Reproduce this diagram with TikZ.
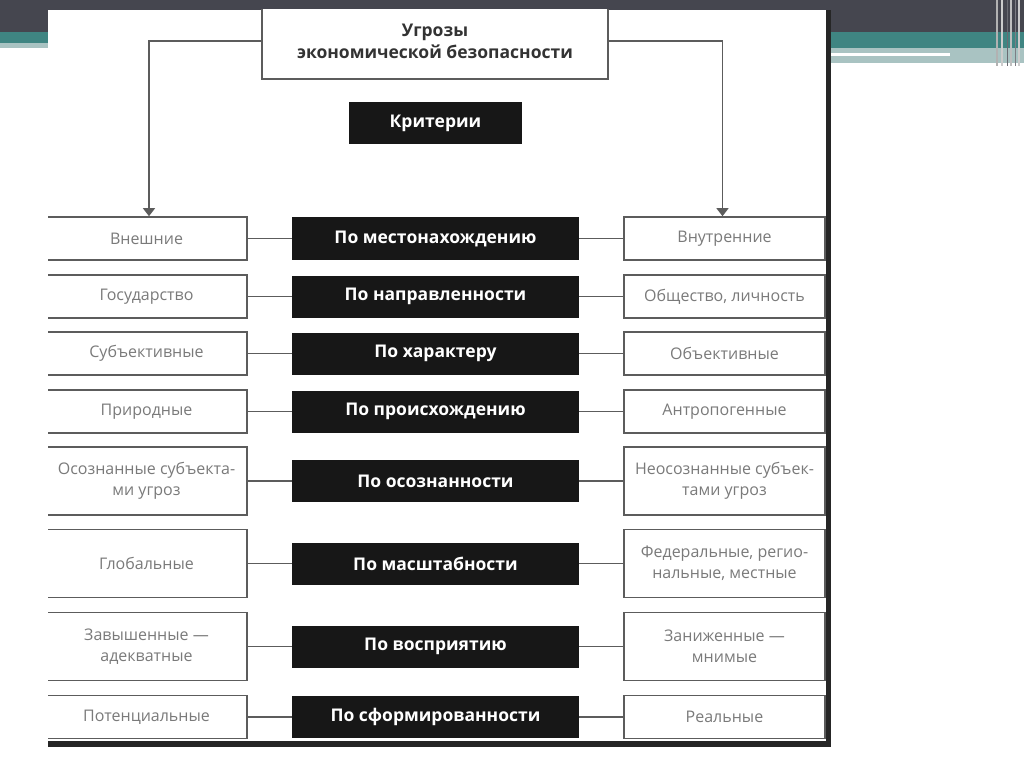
\documentclass[tikz,border=0pt]{standalone}
\usepackage{fontspec}
\setmainfont{Open Sans}
\usetikzlibrary{positioning, arrows.meta}

\definecolor{slidedark}{HTML}{45464F}
\definecolor{slideteal}{HTML}{3F8582}
\definecolor{slidelight}{HTML}{A9C3C2}
\definecolor{boxline}{HTML}{5C5C5C}
\definecolor{boxtext}{HTML}{7A7A7A}
\definecolor{critfill}{HTML}{171717}

\tikzset{
  kind/.style={draw=boxline, line width=1.6pt, fill=white, text=boxtext,
    align=center, inner sep=0pt, minimum width=201pt, minimum height=43pt,
    font=\fontsize{16}{21}\selectfont},
  tall/.style={minimum height=68pt},
  crit/.style={fill=critfill, text=white, inner sep=0pt,
    minimum width=287pt, minimum height=42pt,
    font=\fontsize{17.5}{20}\selectfont\bfseries},
  link/.style={draw=boxline, line width=1.3pt}
}

\begin{document}
\begin{tikzpicture}[x=1pt, y=-1pt]
  \useasboundingbox (0,0) rectangle (1024,767);
  % slide background
  \fill[white] (0,0) rectangle (1024,767);
  \fill[slidedark] (0,0) rectangle (1024,32);
  \fill[slideteal] (0,32) rectangle (48,43);
  \fill[slidelight] (0,43) rectangle (48,48);
  \fill[slideteal] (826,32) rectangle (1024,48);
  \fill[slidelight] (826,48) rectangle (1024,63);
  \fill[white] (831,53) rectangle (950,56);
  \draw[gray!60, line width=1.5pt] (997,0) -- (997,66);
  \draw[gray!40, line width=2pt] (1002,0) -- (1002,66);
  \draw[slidedark!80, line width=1pt] (1007,0) -- (1007,66);
  \draw[gray!50, line width=2pt] (1011,0) -- (1011,66);
  \draw[slidedark!70, line width=1pt] (1015,0) -- (1015,66);
  \draw[gray!40, line width=2pt] (1019,0) -- (1019,66);

  % sheet with shadow
  \fill[white] (48,10) rectangle (826,741);
  \fill[black!85] (826,10) rectangle (831,747);
  \fill[black!85] (48,741) rectangle (831,747);

  \begin{scope}
    \clip (48,10) rectangle (826,741);

    \node[kind, minimum width=346pt, minimum height=76pt, text=black!80,
      font=\fontsize{17.5}{22}\selectfont\bfseries] (threat) at (435,41)
      {Угрозы\\экономической безопасности};
    \node[crit, minimum width=173pt] (criteria) at (435.5,123) {Критерии};

    % criteria
    \node[crit] (place)  at (435.5,238.5) {По местонахождению};
    \node[crit] (aim)    at (435.5,296.5) {По направленности};
    \node[crit] (nature) at (435.5,353.5) {По характеру};
    \node[crit] (origin) at (435.5,411.5) {По происхождению};
    \node[crit] (aware)  at (435.5,481)   {По осознанности};
    \node[crit] (scale)  at (435.5,563.5) {По масштабности};
    \node[crit] (percep) at (435.5,646.5) {По восприятию};
    \node[crit] (form)   at (435.5,717)   {По сформированности};

    % left column
    \node[kind, left=44pt of place]        (place-l)  {Внешние};
    \node[kind, left=44pt of aim]          (aim-l)    {Государство};
    \node[kind, left=44pt of nature]       (nature-l) {Субъективные};
    \node[kind, left=44pt of origin]       (origin-l) {Природные};
    \node[kind, tall, left=44pt of aware]  (aware-l)  {Осознанные субъекта-\\ми угроз};
    \node[kind, tall, left=44pt of scale]  (scale-l)  {Глобальные};
    \node[kind, tall, left=44pt of percep] (percep-l) {Завышенные —\\адекватные};
    \node[kind, left=44pt of form]         (form-l)   {Потенциальные};

    % right column
    \node[kind, right=44pt of place]        (place-r)  {Внутренние};
    \node[kind, right=44pt of aim]          (aim-r)    {Общество, личность};
    \node[kind, right=44pt of nature]       (nature-r) {Объективные};
    \node[kind, right=44pt of origin]       (origin-r) {Антропогенные};
    \node[kind, tall, right=44pt of aware]  (aware-r)  {Неосознанные субъек-\\тами угроз};
    \node[kind, tall, right=44pt of scale]  (scale-r)  {Федеральные, регио-\\нальные, местные};
    \node[kind, tall, right=44pt of percep] (percep-r) {Заниженные —\\мнимые};
    \node[kind, right=44pt of form]         (form-r)   {Реальные};

    \draw[link, -{Triangle[width=12pt, length=8pt]}]
      (threat) -| ([xshift=2.5pt]place-l.north);
    \draw[link, -{Triangle[width=12pt, length=8pt]}]
      (threat) -| ([xshift=-2pt]place-r.north);

    \path[link]
      (place-l) edge (place)   (place) edge (place-r)
        (aim-l) edge (aim)       (aim) edge (aim-r)
     (nature-l) edge (nature) (nature) edge (nature-r)
     (origin-l) edge (origin) (origin) edge (origin-r)
      (aware-l) edge (aware)   (aware) edge (aware-r)
      (scale-l) edge (scale)   (scale) edge (scale-r)
     (percep-l) edge (percep) (percep) edge (percep-r)
       (form-l) edge (form)     (form) edge (form-r);
  \end{scope}
\end{tikzpicture}
\end{document}
